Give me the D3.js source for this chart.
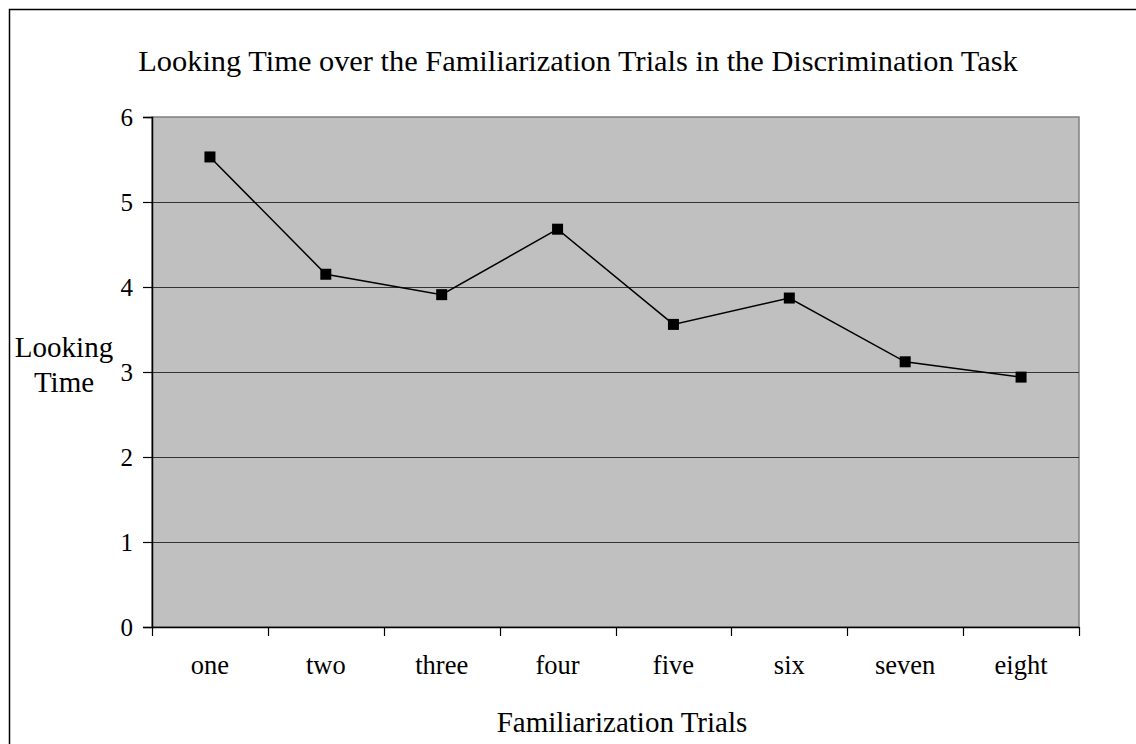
<!DOCTYPE html>
<html>
<head>
<meta charset="utf-8">
<script src="https://cdn.jsdelivr.net/npm/d3@7"></script>
<style>
  html, body { margin: 0; padding: 0; background: #fff; }
  svg { display: block; }
  text { font-family: "Liberation Serif", "Times New Roman", serif; fill: #000; }
</style>
</head>
<body>
<svg id="chart" width="1136" height="744"></svg>
<script>
// ---- data ----
const categories = ["one", "two", "three", "four", "five", "six", "seven", "eight"];
const lookingTime = [5.53, 4.15, 3.91, 4.68, 3.56, 3.87, 3.12, 2.94];
const yTicks = [0, 1, 2, 3, 4, 5, 6];
const chartTitle = "Looking Time over the Familiarization Trials in the Discrimination Task";
const xTitle = "Familiarization Trials";
const yTitleLines = ["Looking", "Time"];

// ---- layout ----
const W = 1136, H = 744;
const plot = { left: 152, right: 1079, top: 117, bottom: 627 };

const svg = d3.select("#chart");

// outer chart border (right/bottom run off the image)
svg.append("rect")
  .attr("x", 9.5).attr("y", 9.5)
  .attr("width", 1400).attr("height", 1000)
  .attr("fill", "#fff").attr("stroke", "#000").attr("stroke-width", 1.5);

const x = d3.scaleBand().domain(categories).range([plot.left, plot.right]).padding(0);
const y = d3.scaleLinear().domain([0, 6]).range([plot.bottom, plot.top]);

// plot area background
svg.append("rect")
  .attr("x", plot.left).attr("y", plot.top)
  .attr("width", plot.right - plot.left).attr("height", plot.bottom - plot.top)
  .attr("fill", "#c0c0c0").attr("stroke", "#808080").attr("stroke-width", 1.5);

// gridlines
svg.append("g").selectAll("line")
  .data(yTicks.filter(d => d > 0 && d < 6))
  .join("line")
  .attr("x1", plot.left).attr("x2", plot.right)
  .attr("y1", d => Math.round(y(d)) + 0.5).attr("y2", d => Math.round(y(d)) + 0.5)
  .attr("stroke", "#333").attr("stroke-width", 1.2);

// y axis
const yAxis = svg.append("g")
  .attr("transform", `translate(${plot.left},0)`)
  .call(d3.axisLeft(y).tickValues(yTicks).tickSize(9).tickPadding(10).tickFormat(d3.format("d")));
yAxis.select(".domain").attr("stroke", "#000").attr("stroke-width", 1.5);
yAxis.selectAll(".tick line").attr("stroke", "#000").attr("stroke-width", 1.2);
yAxis.selectAll(".tick text")
  .style("font-family", '"Liberation Serif", "Times New Roman", serif')
  .style("font-size", "25px").attr("fill", "#000");

// x axis: labels centered on categories
const xAxis = svg.append("g")
  .attr("transform", `translate(0,${plot.bottom})`)
  .call(d3.axisBottom(x).tickSize(0).tickPadding(28));
xAxis.select(".domain").attr("stroke", "#000").attr("stroke-width", 1.5);
xAxis.selectAll(".tick text")
  .style("font-family", '"Liberation Serif", "Times New Roman", serif')
  .style("font-size", "26.5px").attr("fill", "#000");

// x tick marks at category boundaries
const boundaries = categories.map(c => x(c)).concat([x.range()[1]]);
svg.append("g").selectAll("line")
  .data(boundaries)
  .join("line")
  .attr("x1", d => Math.round(d) + 0.5).attr("x2", d => Math.round(d) + 0.5)
  .attr("y1", plot.bottom).attr("y2", plot.bottom + 9)
  .attr("stroke", "#000").attr("stroke-width", 1.2);

// line
const line = d3.line()
  .x((d, i) => x(categories[i]) + x.bandwidth() / 2)
  .y(d => y(d));
svg.append("path")
  .datum(lookingTime)
  .attr("d", line)
  .attr("fill", "none").attr("stroke", "#000").attr("stroke-width", 1.5);

// markers
const ms = 11;
svg.append("g").selectAll("rect")
  .data(lookingTime)
  .join("rect")
  .attr("x", (d, i) => x(categories[i]) + x.bandwidth() / 2 - ms / 2)
  .attr("y", d => y(d) - ms / 2)
  .attr("width", ms).attr("height", ms)
  .attr("fill", "#000");

// titles
svg.append("text")
  .attr("x", 578).attr("y", 71)
  .attr("text-anchor", "middle")
  .style("font-size", "30.4px")
  .text(chartTitle);

svg.append("text")
  .attr("x", 622).attr("y", 732)
  .attr("text-anchor", "middle")
  .style("font-size", "29px")
  .text(xTitle);

svg.append("text")
  .attr("x", 64).attr("y", 357)
  .attr("text-anchor", "middle")
  .style("font-size", "29px")
  .selectAll("tspan")
  .data(yTitleLines)
  .join("tspan")
  .attr("x", 64)
  .attr("dy", (d, i) => i === 0 ? 0 : 35)
  .text(d => d);
</script>
</body>
</html>
